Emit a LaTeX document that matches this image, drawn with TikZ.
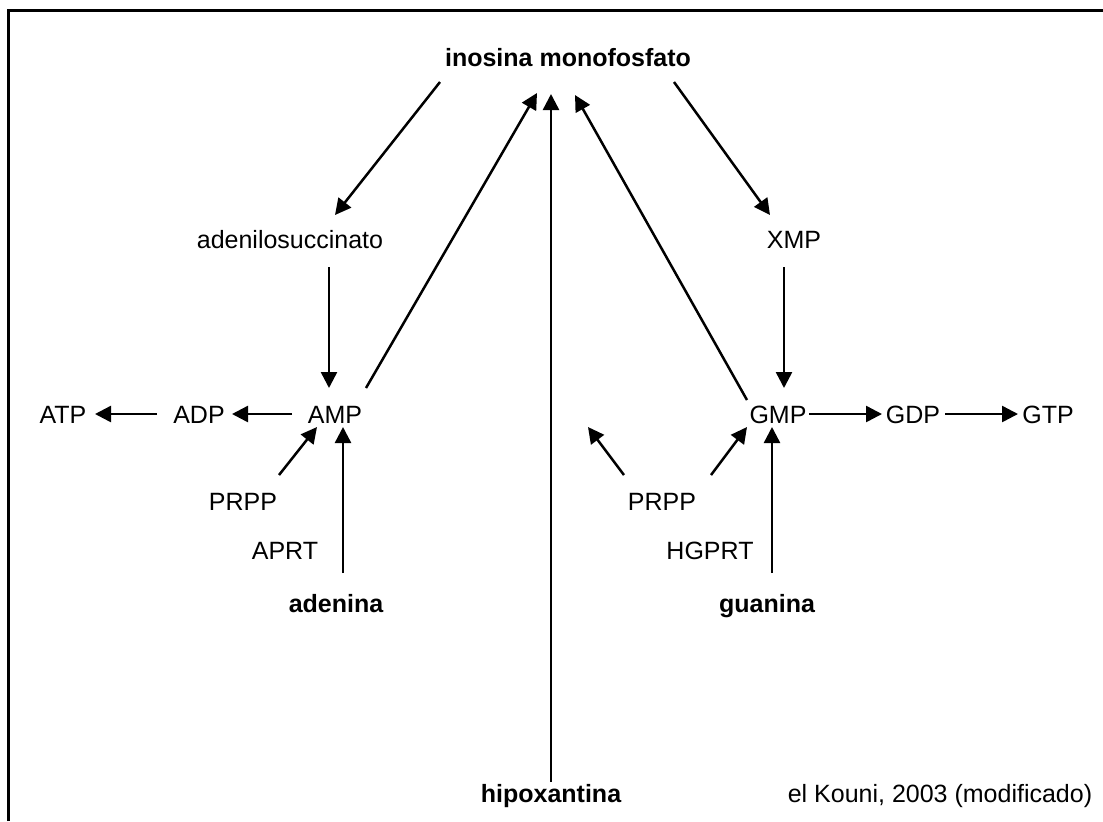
\documentclass[tikz,border=0pt]{standalone}
\usepackage{fontspec}
\setmainfont{Liberation Sans}
\usetikzlibrary{calc,arrows.meta}

\begin{document}
\begin{tikzpicture}[x=0.5pt,y=-0.5pt,
    every node/.style={inner sep=0pt, anchor=base, font=\fontsize{12.5}{14}\selectfont},
    arr/.style={draw, line width=1.25pt, -{Triangle[length=8pt,width=8pt]}}]

      \useasboundingbox (0,0) rectangle (1103,821);
      \draw[line width=1.5pt] (8,821) -- (8,10.5) -- (1103,10.5);

      \begin{scope}[every node/.append style={font=\fontsize{12.5}{14}\selectfont\bfseries}]
        \node (imp)     at (568,66)  {inosina monofosfato};
        \node (adenina) at (336,612) {adenina};
        \node (guanina) at (767,612) {guanina};
        \node (hipox)   at (551,802) {hipoxantina};
      \end{scope}

      \node (adsucc) at (290,248)  {adenilosuccinato};
      \node (xmp)    at (794,248)  {XMP};
      \node (atp)    at (63,423)   {ATP};
      \node (adp)    at (199,423)  {ADP};
      \node (amp)    at (335,423)  {AMP};
      \node (gmp)    at (778,423)  {GMP};
      \node (gdp)    at (913,423)  {GDP};
      \node (gtp)    at (1048,423) {GTP};
      \node (prppA)  at (243,510)  {PRPP};
      \node (prppG)  at (662,510)  {PRPP};
      \node (aprt)   at (285,559)  {APRT};
      \node (hgprt)  at (710,559)  {HGPRT};
      \node (ref)    at (940,802)  {el Kouni, 2003 (modificado)};
      \coordinate (free) at (588,427);

      % inosina monofosfato
      \path[arr] ($(imp.base)+(-128,16)$) -- ($(adsucc.base)+(45,-33)$);
      \path[arr] ($(imp.base)+(106,16)$)  -- ($(xmp.base)+(-24,-33)$);
      \path[arr] ($(amp.base)+(31,-35)$)  -- ($(imp.base)+(-31,27)$);
      \path[arr] ($(hipox.base)+(0,-20)$) -- ($(imp.base)+(-17,28)$);
      \path[arr] ($(gmp.base)+(-31,-23)$) -- ($(imp.base)+(7,29)$);

      % adenina side
      \path[arr] ($(adsucc.base)+(39,19)$)  -- ($(amp.base)+(-6,-35)$);
      \path[arr] ($(amp.base)+(-43,-9)$)    -- ($(adp.base)+(33,-9)$);
      \path[arr] ($(adp.base)+(-42,-9)$)    -- ($(atp.base)+(32,-9)$);
      \path[arr] ($(prppA.base)+(36,-35)$)  -- ($(amp.base)+(-18,4)$);
      \path[arr] ($(adenina.base)+(7,-39)$) -- ($(amp.base)+(8,4)$);

      % guanina side
      \path[arr] ($(xmp.base)+(-10,19)$)    -- ($(gmp.base)+(6,-35)$);
      \path[arr] ($(gmp.base)+(31,-9)$)     -- ($(gdp.base)+(-31,-9)$);
      \path[arr] ($(gdp.base)+(32,-9)$)     -- ($(gtp.base)+(-30,-9)$);
      \path[arr] ($(prppG.base)+(-38,-35)$) -- (free);
      \path[arr] ($(prppG.base)+(49,-35)$)  -- ($(gmp.base)+(-31,4)$);
      \path[arr] ($(guanina.base)+(5,-39)$) -- ($(gmp.base)+(-6,4)$);

    \end{tikzpicture}
\end{document}
